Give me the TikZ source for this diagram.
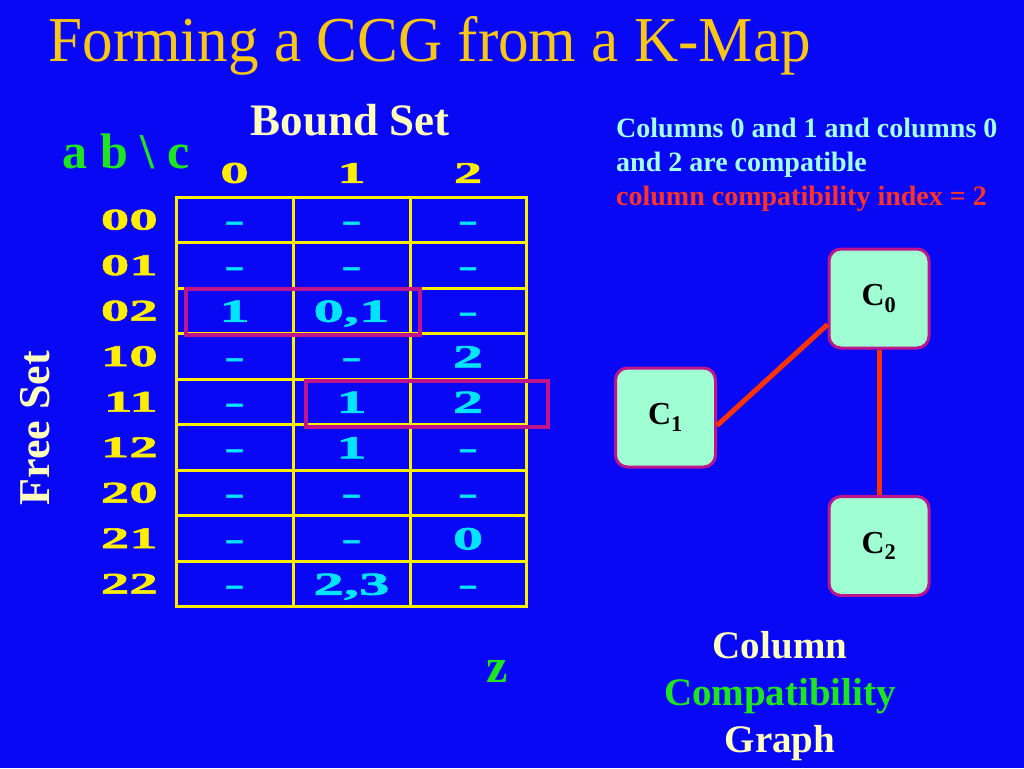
\documentclass[tikz,border=0pt]{standalone}
\usepackage{fontspec}
\setmainfont{Liberation Serif}
\newfontfamily\titlefont[FakeStretch=0.955]{Liberation Serif}
\newfontfamily\kmapfont[FakeStretch=1.9, FakeBold=2]{Liberation Serif}
\usetikzlibrary{positioning}
\definecolor{bgblue}{RGB}{8,8,245}
\definecolor{titlegold}{RGB}{250,198,20}
\definecolor{paleyellow}{RGB}{255,255,190}
\definecolor{kmapgreen}{RGB}{30,230,30}
\definecolor{gridyellow}{RGB}{255,238,0}
\definecolor{cellcyan}{RGB}{0,228,255}
\definecolor{noteaqua}{RGB}{160,255,230}
\definecolor{notered}{RGB}{255,50,40}
\definecolor{boxmagenta}{RGB}{190,20,140}
\definecolor{nodemint}{RGB}{160,255,210}
\definecolor{edgered}{RGB}{255,51,0}
\tikzset{
	gridline/.style = {draw = gridyellow, line width = 3pt},
	pickbox/.style = {draw = boxmagenta, line width = 4.5pt},
	kmaplbl/.style = {text = gridyellow, inner sep = 0pt, font = \kmapfont\bfseries\fontsize{30}{30}\selectfont},
	kmapcell/.style = {minimum width = 117pt, inner sep = 0pt, text height = 22pt, text depth = 0pt, text = cellcyan, font = \kmapfont\bfseries\fontsize{32}{32}\selectfont},
	ccg/.style = {rectangle, rounded corners = 12pt, fill = nodemint, draw = boxmagenta, line width = 3pt, minimum width = 100pt, minimum height = 99pt, font = \bfseries\fontsize{32}{32}\selectfont},
	ccgedge/.style = {draw = edgered, line width = 5pt}
}
\begin{document}
\begin{tikzpicture}[x = 1pt, y = -1pt]
	\fill[bgblue] (0, 0) rectangle (1024, 768);
	% title
	\node[text = titlegold, anchor = base west, font = \titlefont\fontsize{64}{64}\selectfont] (title) at (45, 62) {Forming a CCG from a K-Map};
	% k-map
	\node[text = paleyellow, font = \bfseries\fontsize{45}{45}\selectfont] (bound) at (350, 120) {Bound Set};
	\node[text = kmapgreen, font = \bfseries\fontsize{50}{50}\selectfont] (abc) at (126, 151) {a b \textbackslash{} c};
	\node[text = paleyellow, rotate = 90, font = \bfseries\fontsize{44}{44}\selectfont] (free) at (35, 428) {Free Set};
	\foreach \x/\num in {234.5/0, 351.5/1, 468/2}{
		\node[kmaplbl] (col\num) at (\x, 173) {\num};}
	\foreach \x in {176, 293, 410, 526}{
		\draw[gridline] (\x, 197) -- (\x, 607);}
	\foreach \i in {0, ..., 9}{
		\draw[gridline] (174.5, {197 + 45.5 * \i}) -- (527.5, {197 + 45.5 * \i});}
	\foreach \lbl/\a/\b/\c [count = \i] in {00/-/-/-, 01/-/-/-, 02/1/{0,1}/-, 10/-/-/2, 11/-/1/2, 12/-/1/-, 20/-/-/-, 21/-/-/0, 22/-/{2,3}/-}{
		\node[kmaplbl, anchor = east] (row\lbl) at (158, {197 + 45.5 * (\i - 0.5)}) {\lbl};
		\node[kmapcell] (cell\lbl-0) at (234.5, {197 + 45.5 * (\i - 0.5)}) {\a};
		\node[kmapcell] (cell\lbl-1) at (351.5, {197 + 45.5 * (\i - 0.5)}) {\b};
		\node[kmapcell] (cell\lbl-2) at (468, {197 + 45.5 * (\i - 0.5)}) {\c};}
	\draw[pickbox] (186, 289) rectangle (420, 335);
	\draw[pickbox] (306, 381) rectangle (548, 427);
	\node[text = kmapgreen, font = \bfseries\fontsize{48}{48}\selectfont] (zlbl) at (497, 671) {z};
	% note
	\node[anchor = north west, align = left, inner sep = 0pt, font = \bfseries\fontsize{28}{34}\selectfont] (note) at (616, 118) {\textcolor{noteaqua}{Columns 0 and 1 and columns 0}\\ \textcolor{noteaqua}{and 2 are compatible}\\ \textcolor{notered}{column compatibility index = 2}};
	% graph
	\node[ccg] (c0) at (879, 298.5) {C\textsubscript{0}};
	\node[ccg] (c1) at (665.5, 417.5) {C\textsubscript{1}};
	\node[ccg] (c2) at (879, 546) {C\textsubscript{2}};
	\draw[ccgedge] ([yshift = -8pt]c1.east) -- ([yshift = -26pt]c0.west);
	\draw[ccgedge] (c0.south) -- (c2.north);
	\node[align = center, font = \bfseries\fontsize{39}{47}\selectfont] (ccglbl) at (780, 696) {\textcolor{paleyellow}{Column}\\ \textcolor{kmapgreen}{Compatibility}\\ \textcolor{paleyellow}{Graph}};
\end{tikzpicture}
\end{document}
